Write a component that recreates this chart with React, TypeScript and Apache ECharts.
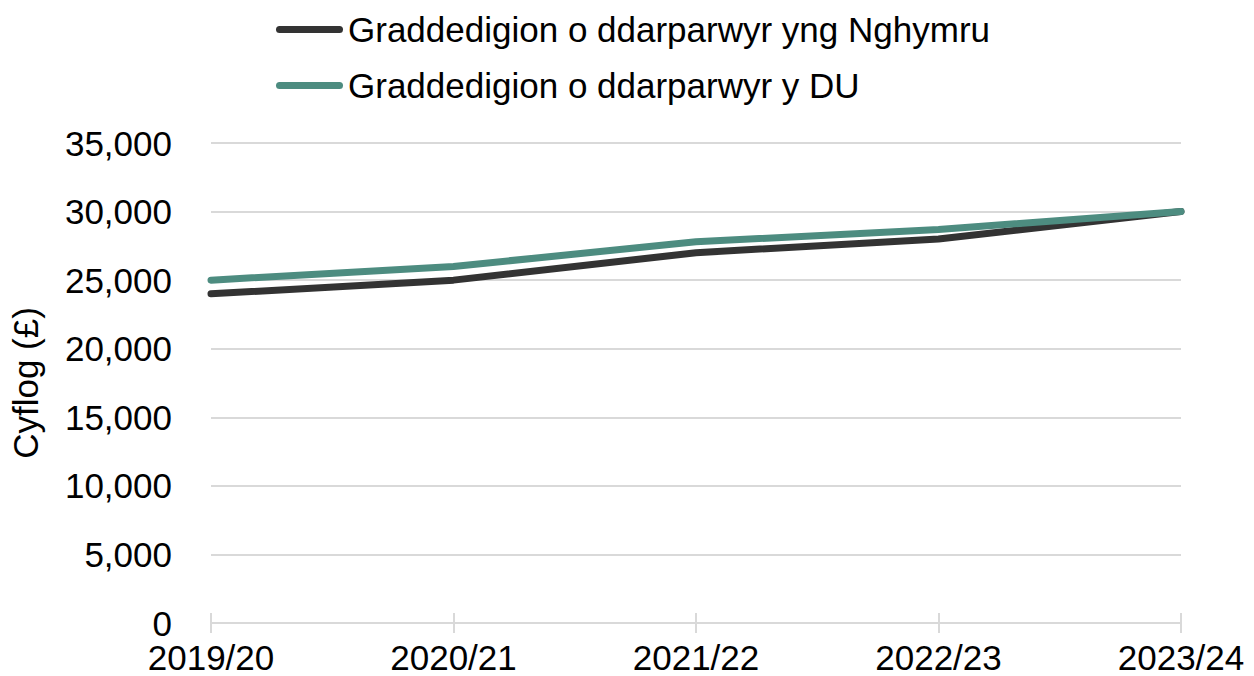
import React, { useEffect, useRef } from "react";
import * as echarts from "echarts";

const categories = ["2019/20", "2020/21", "2021/22", "2022/23", "2023/24"];
const walesName = "Graddedigion o ddarparwyr yng Nghymru";
const ukName = "Graddedigion o ddarparwyr y DU";
const walesValues = [24000, 25000, 27000, 28000, 30000];
const ukValues = [25000, 26000, 27800, 28700, 30000];
const yAxisName = "Cyflog (£)";

const FONT = "'Liberation Sans', Arial, sans-serif";
const FS = 35;
const LEGEND_ICON = "path://M3.5,0 L63.5,0 A3.5,3.5 0 0 1 63.5,7 L3.5,7 A3.5,3.5 0 0 1 3.5,0 Z";

export default function App() {
  const ref = useRef<HTMLDivElement>(null);
  useEffect(() => {
    if (!ref.current) return;
    const chart = echarts.init(ref.current, undefined, { renderer: "svg" });
    const legendCommon = {
      orient: "horizontal" as const,
      left: 276,
      padding: 0,
      itemWidth: 67,
      itemHeight: 7,
      itemGap: 5,
      icon: LEGEND_ICON,
      selectedMode: false,
      textStyle: { fontSize: FS, fontFamily: FONT, color: "#000", padding: [0, 0, 0, 0] },
    };
    chart.setOption({
      animation: false,
      textStyle: { fontFamily: FONT },
      legend: [
        { ...legendCommon, top: 12, data: [walesName] },
        { ...legendCommon, top: 68, data: [ukName] },
      ],
      grid: { left: 210, right: 73, top: 143, bottom: 53, containLabel: false },
      xAxis: [
        {
          type: "category",
          data: categories,
          boundaryGap: false,
          axisLine: { lineStyle: { color: "#d9d9d9", width: 2 } },
          axisTick: { show: true, length: 10, lineStyle: { color: "#d9d9d9", width: 2 } },
          axisLabel: { fontSize: FS, lineHeight: 34, color: "#000", fontFamily: FONT, margin: 17 },
          splitLine: { show: false },
        },
        {
          type: "category",
          data: categories,
          boundaryGap: false,
          position: "bottom",
          axisLine: { show: false },
          axisTick: { show: true, inside: true, length: 10, lineStyle: { color: "#d9d9d9", width: 2 } },
          axisLabel: { show: false },
          splitLine: { show: false },
        },
      ],
      yAxis: {
        type: "value",
        min: 0,
        max: 35000,
        interval: 5000,
        name: yAxisName,
        nameLocation: "middle",
        nameGap: 168,
        nameTextStyle: { fontSize: FS, color: "#000", fontFamily: FONT },
        axisLine: { show: false },
        axisTick: { show: false },
        axisLabel: {
          fontSize: FS,
          lineHeight: 30,
          color: "#000",
          fontFamily: FONT,
          margin: 39,
          formatter: (v: number) => v.toLocaleString("en-GB"),
        },
        splitLine: { lineStyle: { color: "#d9d9d9", width: 2 } },
      },
      series: [
        {
          name: walesName,
          type: "line",
          data: walesValues,
          symbol: "none",
          showSymbol: false,
          lineStyle: { color: "#333333", width: 7, cap: "round", join: "round" },
          itemStyle: { color: "#333333" },
          z: 2,
        },
        {
          name: ukName,
          type: "line",
          data: ukValues,
          symbol: "none",
          showSymbol: false,
          lineStyle: { color: "#4d8c80", width: 7, cap: "round", join: "round" },
          itemStyle: { color: "#4d8c80" },
          z: 3,
        },
      ],
    });
    return () => chart.dispose();
  }, []);
  return <div ref={ref} style={{ width: 1254, height: 676, position: "absolute", left: 0, top: 0 }} />;
}
